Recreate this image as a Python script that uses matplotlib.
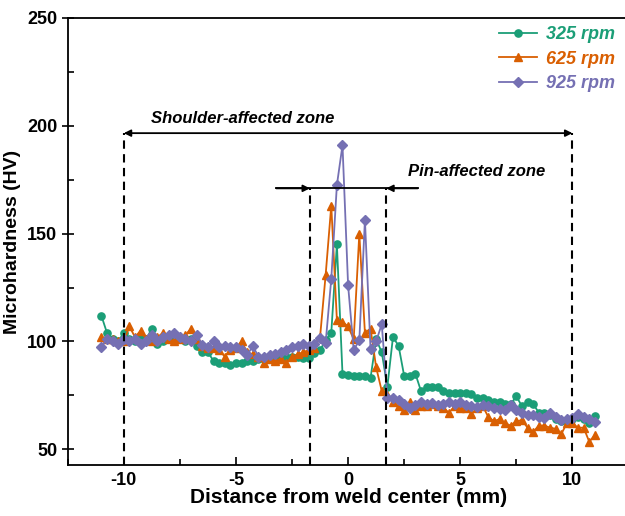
import numpy as np
import matplotlib
matplotlib.use("Agg")
import matplotlib.pyplot as plt
from matplotlib.ticker import MultipleLocator

plt.rcParams['font.family'] = ['Liberation Sans', 'DejaVu Sans']
plt.rcParams['font.weight'] = 'bold'
plt.rcParams['axes.unicode_minus'] = False

# Positions (mm) - measured every 0.25 mm from -11 to 11
distance = [-11.0 + 0.25 * i for i in range(89)]

hv_325 = [112, 104, 101, 100, 104, 101, 100, 102, 101, 106,
          99, 100, 102, 103, 101, 100, 101, 98, 95, 95,
          91, 90, 90, 89, 90, 90, 91, 91, 92, 92,
          92, 92, 93, 93, 93, 93, 92.5, 92.5, 94.5, 96,
          100.5, 104, 145, 85, 84.5, 84, 84, 84, 83, 101,
          95, 79, 102, 98, 84, 84, 85, 77, 79, 79,
          79, 77, 76, 76, 76, 76, 75.5, 74, 74, 73,
          72, 72, 71, 71, 74.5, 70, 72, 71, 67, 67,
          66, 64, 63, 63, 64, 65, 64, 62, 65.5]

hv_625 = [102, 101, 101, 100, 100, 107, 102, 105, 101, 100,
          102, 104, 101, 100, 101, 103, 106, 101, 98, 97,
          97, 96, 93, 96, 97, 100, 95, 94, 93, 90,
          92, 91, 92, 90, 93, 94, 95, 96, 97, 102,
          131, 163, 110, 109, 107, 101, 150, 104, 106, 88,
          77, 75, 72, 70, 68, 72, 68, 70, 70, 71,
          70, 69, 67, 70, 69, 69, 66.5, 69, 70, 65,
          63, 64, 62, 61, 63, 63.5, 60, 58, 61, 61,
          60, 59.5, 57, 62, 62, 60, 60, 53.5, 56.5]

hv_925 = [97.5, 101, 100, 99, 101, 100, 101, 99, 100, 103,
          100, 102, 103, 104, 102, 101, 100, 103, 98.5, 97.5,
          100, 97.5, 98, 97.5, 97.5, 96, 93.5, 98, 93, 93,
          93.5, 94, 95, 96, 97.5, 98, 99, 98, 99, 101.5,
          99.5, 129, 172.5, 191, 126, 96, 100.5, 156.5, 96.5, 100,
          108, 74, 74, 73, 71, 69, 70.5, 72, 71, 71.5,
          70.5, 71, 72, 71, 72, 70.5, 70, 69.5, 70.5, 70,
          69, 68.5, 68, 70.5, 68, 67, 66, 66, 65, 64.5,
          67, 65, 63.5, 64, 64.5, 66.5, 65, 64, 62.5]

series_labels = ['325 rpm', '625 rpm', '925 rpm']
series_colors = ['#1b9e77', '#d95f02', '#7570b3']
series_markers = ['o', '^', 'D']
series_msize = [5.2, 6.2, 4.7]

shoulder_zone = [-10, 10]
pin_zone = [-1.7, 1.7]

fig = plt.figure(figsize=(6.25, 5.16), dpi=100)
ax = fig.add_axes([67.7 / 625, 51 / 516, (628.5 - 67.7) / 625, (465 - 18) / 516])

for y, lab, c, m, ms in zip([hv_325, hv_625, hv_925], series_labels,
                            series_colors, series_markers, series_msize):
    ax.plot(distance, y, color=c, marker=m, markersize=ms, lw=1.3, label=lab)

ax.set_xlim(-12.5, 12.5)
ax.set_ylim(42.7, 250)

dash = (0, (4, 2.6))
y_sh = 196.6
y_pin = 171.0
for xv in shoulder_zone:
    ax.plot([xv, xv], [42.7, y_sh], color='black', lw=1.5, linestyle=dash)
for xv in pin_zone:
    ax.plot([xv, xv], [42.7, y_pin], color='black', lw=1.5, linestyle=dash)

ax.annotate('', xy=(shoulder_zone[0], y_sh), xytext=(shoulder_zone[1], y_sh),
            arrowprops=dict(arrowstyle='<|-|>', color='black', lw=1.3,
                            mutation_scale=10, shrinkA=0, shrinkB=0))
ax.plot([-3.2, 3.1], [y_pin, y_pin], color='black', lw=1.3)
ax.annotate('', xy=(pin_zone[0], y_pin), xytext=(-3.2, y_pin),
            arrowprops=dict(arrowstyle='-|>', color='black', lw=1.3,
                            mutation_scale=10, shrinkA=0, shrinkB=0))
ax.annotate('', xy=(pin_zone[1], y_pin), xytext=(3.1, y_pin),
            arrowprops=dict(arrowstyle='-|>', color='black', lw=1.3,
                            mutation_scale=10, shrinkA=0, shrinkB=0))

ax.text(-8.8, 203.6, 'Shoulder-affected zone', fontsize=12, fontweight='bold',
        fontstyle='italic', va='center', ha='left')
ax.text(2.68, 179, 'Pin-affected zone', fontsize=12, fontweight='bold',
        fontstyle='italic', va='center', ha='left')

ax.xaxis.set_major_locator(MultipleLocator(5))
ax.xaxis.set_minor_locator(MultipleLocator(2.5))
ax.yaxis.set_major_locator(MultipleLocator(50))
ax.yaxis.set_minor_locator(MultipleLocator(25))
ax.tick_params(axis='x', which='major', direction='in', length=6, width=1.2,
               labelsize=13, pad=5)
ax.tick_params(axis='y', which='major', direction='inout', length=9, width=1.2,
               labelsize=13, pad=3)
ax.tick_params(axis='both', which='minor', direction='in', length=4, width=1.2)
ax.tick_params(axis='x', which='both', top=False)
ax.tick_params(axis='y', which='both', right=False)
for lab in ax.get_xticklabels() + ax.get_yticklabels():
    lab.set_fontweight('bold')
for s in ax.spines.values():
    s.set_linewidth(1.3)

ax.set_xlabel('Distance from weld center (mm)', fontsize=15, fontweight='bold', labelpad=-1)
ax.set_ylabel('Microhardness (HV)', fontsize=14, fontweight='bold', labelpad=4)

leg = ax.legend(loc='upper right', bbox_to_anchor=(624 / 625, 1 - 17 / 516),
                bbox_transform=fig.transFigure, frameon=False,
                handlelength=2.1, handletextpad=0.5, labelspacing=0.42,
                prop=dict(size=13, weight='bold', style='italic'), borderpad=0)
for t, c in zip(leg.get_texts(), series_colors):
    t.set_color(c)

fig.savefig('out.png', dpi=100)
